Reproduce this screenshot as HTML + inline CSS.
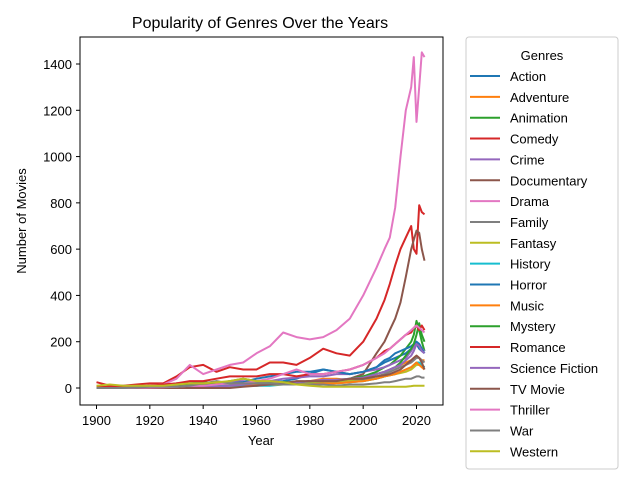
<!DOCTYPE html>
<html><head><meta charset="utf-8"><style>
body{margin:0;background:#fff;font-family:"Liberation Sans",sans-serif;}
svg text{font-family:"Liberation Sans",sans-serif;}
</style></head><body>
<svg id="chart" width="640" height="480">
<rect width="640" height="480" fill="#fff"/>
<text x="260" y="28" font-size="16" text-anchor="middle">Popularity of Genres Over the Years</text>
<g id="plot"></g>
<rect x="80" y="37" width="363" height="368" fill="none" stroke="#000" stroke-width="1"/>
<g id="xaxis"></g><g id="yaxis"></g>
<text x="261" y="445" font-size="13" text-anchor="middle">Year</text>
<text transform="translate(26,221) rotate(-90)" font-size="13" text-anchor="middle">Number of Movies</text>
<g id="legend">
<rect x="466" y="37" width="152" height="432" rx="3" fill="#fff" stroke="#ccc"/>
<text x="542" y="60" font-size="13" text-anchor="middle">Genres</text>
</g>
</svg>
<script>
const years=[1900,1905,1910,1915,1920,1925,1930,1935,1940,1945,1950,1955,1960,1965,1970,1975,1980,1985,1990,1995,2000,2005,2008,2010,2012,2014,2016,2018,2019,2020,2021,2022,2023];
const genres=["Action","Adventure","Animation","Comedy","Crime","Documentary","Drama","Family","Fantasy","History","Horror","Music","Mystery","Romance","Science Fiction","TV Movie","Thriller","War","Western"];
const sAction=[2,2,3,3,5,5,10,15,20,15,20,15,20,25,30,40,60,80,70,60,70,90,110,120,130,140,150,170,180,190,170,160,150];
const sAdventure=[1,1,2,2,3,5,10,15,15,10,15,15,15,20,20,25,30,40,40,35,40,60,70,80,90,100,110,120,130,140,130,120,120];
const sAnimation=[0,0,1,2,5,10,20,20,25,20,30,40,30,25,25,20,25,30,30,40,50,70,90,100,120,140,170,200,230,290,250,200,160];
const sComedy=[25,10,10,15,20,20,50,90,100,70,90,80,80,110,110,100,130,170,150,140,200,300,380,450,530,600,650,700,600,580,790,760,750];
const sCrime=[1,1,3,5,10,10,20,20,20,20,30,30,25,30,40,45,50,50,60,60,70,80,90,100,110,120,130,160,180,200,190,170,160];
const sDocumentary=[0,0,1,2,2,3,5,5,5,10,10,10,10,15,15,20,20,25,30,40,60,150,200,250,300,370,480,600,640,680,670,600,550];
const sDrama=[5,3,5,5,10,15,40,100,60,80,100,110,150,180,240,220,210,220,250,300,400,520,600,650,780,1000,1200,1300,1430,1150,1300,1450,1430];
const sFamily=[0,0,0,1,2,2,5,5,5,10,15,15,20,20,25,25,20,25,25,30,35,50,60,70,80,90,100,110,120,130,130,120,110];
const sFantasy=[0,0,1,1,2,3,5,5,5,10,10,10,15,15,15,15,20,25,25,30,30,40,50,55,60,65,70,80,90,100,100,100,90];
const sHistory=[0,0,1,1,2,3,5,5,5,10,10,10,10,10,15,15,15,20,20,25,30,40,50,55,60,70,80,90,100,110,110,100,90];
const sHorror=[0,0,1,1,2,2,10,20,20,15,20,25,40,50,60,70,70,80,70,60,70,90,120,130,150,160,170,180,190,200,190,170,150];
const sMusic=[0,0,0,1,2,5,15,20,20,20,20,15,15,15,15,15,15,20,20,25,30,40,50,55,60,70,80,90,100,110,100,90,80];
const sMystery=[0,0,1,1,2,3,10,15,15,15,20,20,20,20,25,25,30,30,35,40,50,60,70,80,90,110,140,170,190,230,280,230,200];
const sRomance=[5,5,5,5,10,15,20,30,30,40,50,50,50,60,60,50,60,60,70,80,100,130,160,170,190,210,230,240,260,270,250,270,250];
const sSciFi=[0,0,0,1,2,2,5,5,5,5,10,15,20,20,20,25,30,35,35,40,45,60,70,80,90,100,120,140,160,190,180,160,150];
const sTVMovie=[0,0,0,0,0,0,0,0,0,0,0,5,10,15,20,30,30,30,30,40,40,50,55,60,70,80,100,120,130,140,130,110,80];
const sThriller=[0,0,0,1,2,3,5,10,10,15,20,20,30,40,60,80,60,60,70,80,100,130,150,170,190,210,230,250,260,270,260,250,240];
const sWar=[0,0,0,2,5,5,5,10,20,30,20,20,20,20,15,15,15,15,10,15,15,20,25,25,30,35,40,40,45,50,50,45,45];
const sWestern=[10,15,10,10,10,10,15,20,20,25,30,40,30,30,25,15,10,5,5,5,5,5,5,5,5,5,5,8,10,10,10,10,10];
const xTicks=[1900,1920,1940,1960,1980,2000,2020];
const yTicks=[0,200,400,600,800,1000,1200,1400];

const series=[sAction,sAdventure,sAnimation,sComedy,sCrime,sDocumentary,sDrama,sFamily,sFantasy,sHistory,sHorror,sMusic,sMystery,sRomance,sSciFi,sTVMovie,sThriller,sWar,sWestern];
const colors=["#1f77b4","#ff7f0e","#2ca02c","#d62728","#9467bd","#8c564b","#e377c2","#7f7f7f","#bcbd22","#17becf"];
const NS="http://www.w3.org/2000/svg";
function xs(v){return 96.5+(v-1900)*320/120;}
function ys(v){return 388-v*324/1400;}
function mk(t,a,p){const e=document.createElementNS(NS,t);for(const k in a)e.setAttribute(k,a[k]);p.appendChild(e);return e;}
const plot=document.getElementById('plot'),xa=document.getElementById('xaxis'),ya=document.getElementById('yaxis'),lg=document.getElementById('legend');
series.forEach((s,i)=>{
  const d=s.map((v,j)=>(j?'L':'M')+xs(years[j]).toFixed(1)+','+ys(v).toFixed(1)).join('');
  const p=mk('path',{d:d,fill:'none',stroke:colors[i%10],'stroke-width':2,'stroke-linejoin':'round'},plot);
  
  
  const y=76+i*20.85;
  const l=mk('line',{x1:470,x2:500,y1:y,y2:y,stroke:colors[i%10],'stroke-width':2},lg);
  
  
  const t=mk('text',{x:510,y:y+5,'font-size':13},lg);t.textContent=genres[i];
  
  
});
xTicks.forEach(v=>{
  const x=xs(v);
  const l=mk('line',{x1:x,x2:x,y1:405,y2:409,stroke:'#000'},xa);
  
  
  const t=mk('text',{x:x,y:425,'font-size':13,'text-anchor':'middle'},xa);t.textContent=v;
  
  
});
yTicks.forEach(v=>{
  const y=ys(v);
  const l=mk('line',{x1:76,x2:80,y1:y,y2:y,stroke:'#000'},ya);
  
  
  const t=mk('text',{x:72,y:y+5,'font-size':13,'text-anchor':'end'},ya);t.textContent=v;
  
  
});
</script>
</body></html>
